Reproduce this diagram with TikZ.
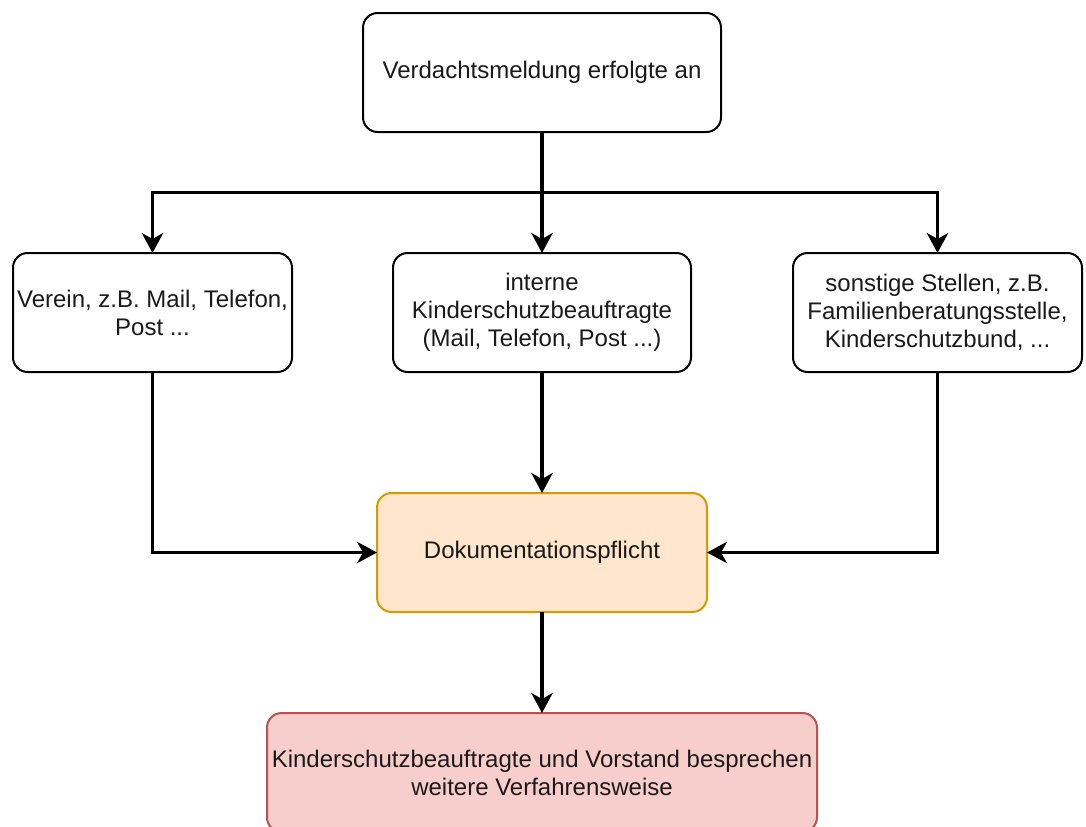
\documentclass[tikz,border=0pt]{standalone}
\usepackage{fontspec}
\setmainfont{Liberation Sans}
\usepackage{tikz}
\usetikzlibrary{positioning,arrows.meta,calc}
\definecolor{colortext}     {RGB}{ 26, 26, 26}
\definecolor{colorline}     {RGB}{  0,  0,  0}
\definecolor{colordoku}     {RGB}{255,230,204}
\definecolor{colordokuline} {RGB}{215,155,  0}
\definecolor{colorfinal}    {RGB}{248,206,204}
\definecolor{colorfinalline}{RGB}{184, 84, 80}

\begin{document}
\begin{tikzpicture}[
    x=0.75pt, y=-0.75pt,
    font={\fontsize{18}{21}\selectfont},
    base/.style={text=colortext,draw=colorline,line width=1.5pt,fill=white,rounded corners=11pt,
                 align=center,rectangle,inner sep=2pt,outer sep=0pt,minimum height=89.25pt},
    doku/.style={base,fill=colordoku,draw=colordokuline},
    final/.style={base,fill=colorfinal,draw=colorfinalline},
    flow/.style={draw=colorline,line width=2.6pt,-{Stealth[length=15pt,width=16pt,inset=4.5pt]}},
]
    \useasboundingbox (0,0) rectangle (1086,826);

    \node[base,minimum width=268.5pt] at (542,72.5) (verdacht) {Verdachtsmeldung erfolgte an};

    \node[base,minimum width=223.5pt,below=90.75pt of verdacht] (intern)   {interne\\Kinderschutzbeauftragte\\(Mail, Telefon, Post ...)};
    \node[base,minimum width=209.25pt,left=75.75pt of intern]  (verein)   {Verein, z.B. Mail, Telefon,\\Post ...};
    \node[base,minimum width=216.75pt,right=76.5pt of intern]  (sonstige) {sonstige Stellen, z.B.\\Familienberatungsstelle,\\Kinderschutzbund, ...};

    \node[doku,minimum width=247.5pt,below=90.75pt of intern] (doku) {Dokumentationspflicht};
    \node[final,minimum width=412.5pt,below=75.75pt of doku]  (besprechen) {Kinderschutzbeauftragte und Vorstand besprechen\\weitere Verfahrensweise};

    \coordinate (split) at ($(verdacht.south)!0.5!(intern.north)$);

    \draw[flow](verdacht.south) -- (intern.north);
    \draw[flow](split) -| (verein.north);
    \draw[flow](split) -| (sonstige.north);

    \draw[flow](intern.south) -- (doku.north);
    \draw[flow](verein.south) |- (doku.west);
    \draw[flow](sonstige.south) |- (doku.east);

    \draw[flow](doku.south) -- (besprechen.north);

\end{tikzpicture}
\end{document}
